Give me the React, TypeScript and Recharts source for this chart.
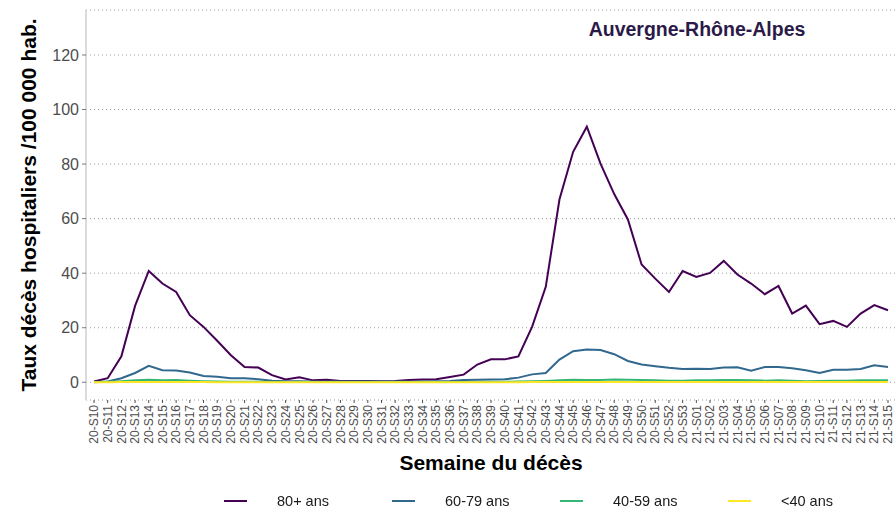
import { LineChart, Line, XAxis, YAxis, CartesianGrid, Legend, Label } from 'recharts';

// semaines de décès, 2020-S10 -> 2021-S15
const weeks = [
  '20-S10', '20-S11', '20-S12', '20-S13', '20-S14', '20-S15', '20-S16', '20-S17', '20-S18', '20-S19',
  '20-S20', '20-S21', '20-S22', '20-S23', '20-S24', '20-S25', '20-S26', '20-S27', '20-S28', '20-S29',
  '20-S30', '20-S31', '20-S32', '20-S33', '20-S34', '20-S35', '20-S36', '20-S37', '20-S38', '20-S39',
  '20-S40', '20-S41', '20-S42', '20-S43', '20-S44', '20-S45', '20-S46', '20-S47', '20-S48', '20-S49',
  '20-S50', '20-S51', '20-S52', '20-S53', '21-S01', '21-S02', '21-S03', '21-S04', '21-S05', '21-S06',
  '21-S07', '21-S08', '21-S09', '21-S10', '21-S11', '21-S12', '21-S13', '21-S14', '21-S15',
];

const taux80 = [
  0.3, 1.5, 9.5, 28, 40.8, 36.2, 33.1, 24.6, 20.3, 15.2,
  9.9, 5.6, 5.4, 2.6, 1.0, 1.8, 0.7, 0.9, 0.5, 0.5,
  0.5, 0.4, 0.5, 0.8, 1.0, 1.1, 1.9, 2.8, 6.5, 8.4,
  8.4, 9.5, 20.3, 35, 67, 84.5, 93.7, 80.2, 69, 59.7,
  43.2, 38, 33.1, 40.8, 38.6, 40.1, 44.5, 39.5, 36.2, 32.3,
  35.3, 25.2, 28.1, 21.3, 22.5, 20.3, 25.2, 28.3, 26.4,
];

const taux60 = [
  0, 0.3, 1.5, 3.4, 6.0, 4.4, 4.3, 3.6, 2.3, 2.0,
  1.5, 1.5, 1.1, 0.6, 0.4, 0.4, 0.3, 0.3, 0.3, 0.3,
  0.3, 0.3, 0.3, 0.3, 0.3, 0.4, 0.5, 0.8, 0.9, 1.0,
  1.1, 1.7, 2.9, 3.4, 8.3, 11.4, 12, 11.8, 10.3, 7.8,
  6.5, 5.9, 5.3, 4.9, 5.0, 4.9, 5.4, 5.5, 4.2, 5.6,
  5.6, 5.1, 4.4, 3.4, 4.6, 4.6, 4.9, 6.2, 5.6,
];

const taux40 = [
  0.1, 0.2, 0.4, 0.7, 0.9, 0.7, 0.8, 0.6, 0.4, 0.3,
  0.2, 0.2, 0.2, 0.1, 0.1, 0.1, 0.1, 0.1, 0.1, 0.1,
  0.1, 0.1, 0.1, 0.1, 0.1, 0.1, 0.1, 0.1, 0.1, 0.2,
  0.2, 0.3, 0.4, 0.5, 0.7, 0.9, 0.8, 0.8, 1.0, 0.9,
  0.8, 0.7, 0.6, 0.6, 0.7, 0.7, 0.8, 0.8, 0.7, 0.6,
  0.7, 0.6, 0.4, 0.5, 0.6, 0.6, 0.7, 0.7, 0.7,
];

const tauxMoins40 = [
  0, 0, 0.1, 0.1, 0.1, 0.1, 0.1, 0.1, 0.1, 0,
  0, 0, 0, 0, 0, 0, 0, 0, 0, 0,
  0, 0, 0, 0, 0, 0, 0, 0, 0, 0,
  0, 0, 0.1, 0.1, 0.1, 0.1, 0.1, 0.1, 0.1, 0.1,
  0.1, 0.1, 0.1, 0.1, 0.1, 0.1, 0.1, 0.1, 0.1, 0.1,
  0.1, 0.1, 0.1, 0.1, 0.1, 0.1, 0.1, 0.1, 0.1,
];

const yTicks = [0, 20, 40, 60, 80, 100, 120];
const ageLabels = ['80+ ans', '60-79 ans', '40-59 ans', '<40 ans'];
const ageKeys = ['a80', 'a60', 'a40', 'a0'];
const ageColors = ['#440154', '#31688e', '#35b779', '#fde725'];

const data = weeks.map((w, i) => ({
  week: w,
  a80: taux80[i],
  a60: taux60[i],
  a40: taux40[i],
  a0: tauxMoins40[i],
}));

const FONT = '"Liberation Sans", Arial, sans-serif';

function WeekTick({ x, y, payload }: any) {
  return (
    <text
      x={x}
      y={y}
      transform={`rotate(-90, ${x}, ${y})`}
      textAnchor="end"
      dy="0.35em"
      fontSize={12}
      fill="#4d4d4d"
    >
      {payload.value}
    </text>
  );
}

function AgeLegend() {
  return (
    <div style={{ display: 'flex', paddingLeft: 224, height: 22, alignItems: 'center', fontSize: 14.5, color: '#1a1a1a' }}>
      {ageLabels.map((label, i) => (
        <div key={label} style={{ width: 171, display: 'flex', alignItems: 'center' }}>
          <span style={{ display: 'inline-block', width: 23, height: 2, background: ageColors[i], marginRight: 30 }} />
          <span>{label}</span>
        </div>
      ))}
    </div>
  );
}

export default function App() {
  return (
    <div style={{ position: 'fixed', left: 0, top: 0, width: 896, height: 508, background: '#fff', fontFamily: FONT }}>
      <LineChart
        width={896}
        height={508}
        data={data}
        margin={{ top: 10, right: 0, bottom: 0, left: 0 }}
        style={{ fontFamily: FONT }}
      >
        <CartesianGrid vertical={false} stroke="#9a9a9a" strokeDasharray="1 3" />
        <XAxis
          dataKey="week"
          interval={0}
          height={108}
          padding={{ left: 8, right: 8 }}
          axisLine={false}
          tickLine={{ stroke: '#4d4d4d' }}
          tickSize={3}
          tickMargin={2}
          tick={<WeekTick />}
        >
          <Label
            content={({ viewBox }: any) => (
              <text
                x={viewBox.x + viewBox.width / 2}
                y={viewBox.y + 70}
                textAnchor="middle"
                fontSize={21}
                fontWeight="bold"
                fill="#000"
              >
                Semaine du décès
              </text>
            )}
          />
        </XAxis>
        <YAxis
          width={86}
          domain={[-6.5, 136.5]}
          ticks={yTicks}
          axisLine={{ stroke: '#cfcfcf', strokeWidth: 1.5 }}
          tickLine={{ stroke: '#7a7a7a' }}
          tickSize={4}
          tickMargin={3}
          tick={{ fontSize: 16, fill: '#4d4d4d' }}
        >
          <Label
            content={({ viewBox }: any) => {
              const cx = viewBox.x + 29;
              const cy = viewBox.y + viewBox.height / 2;
              return (
                <text
                  x={cx}
                  y={cy}
                  transform={`rotate(-90, ${cx}, ${cy})`}
                  textAnchor="middle"
                  dy="0.35em"
                  fontSize={21}
                  fontWeight="bold"
                  fill="#000"
                >
                  Taux décès hospitaliers /100 000 hab.
                </text>
              );
            }}
          />
        </YAxis>
        <Legend
          layout="horizontal"
          verticalAlign="middle"
          align="center"
          wrapperStyle={{ top: 490, left: 0, width: 896, height: 22 }}
          content={<AgeLegend />}
        />
        {ageKeys.map((k, i) => (
          <Line
            key={k}
            type="linear"
            dataKey={k}
            name={ageLabels[i]}
            stroke={ageColors[i]}
            strokeWidth={2}
            dot={false}
            isAnimationActive={false}
          />
        ))}
      </LineChart>
      <div
        style={{
          position: 'absolute',
          left: 547,
          width: 300,
          top: 19,
          textAlign: 'center',
          fontSize: 19.5,
          lineHeight: '20px',
          fontWeight: 'bold',
          color: '#2b1a48',
          whiteSpace: 'nowrap',
        }}
      >
        Auvergne-Rhône-Alpes
      </div>
    </div>
  );
}
